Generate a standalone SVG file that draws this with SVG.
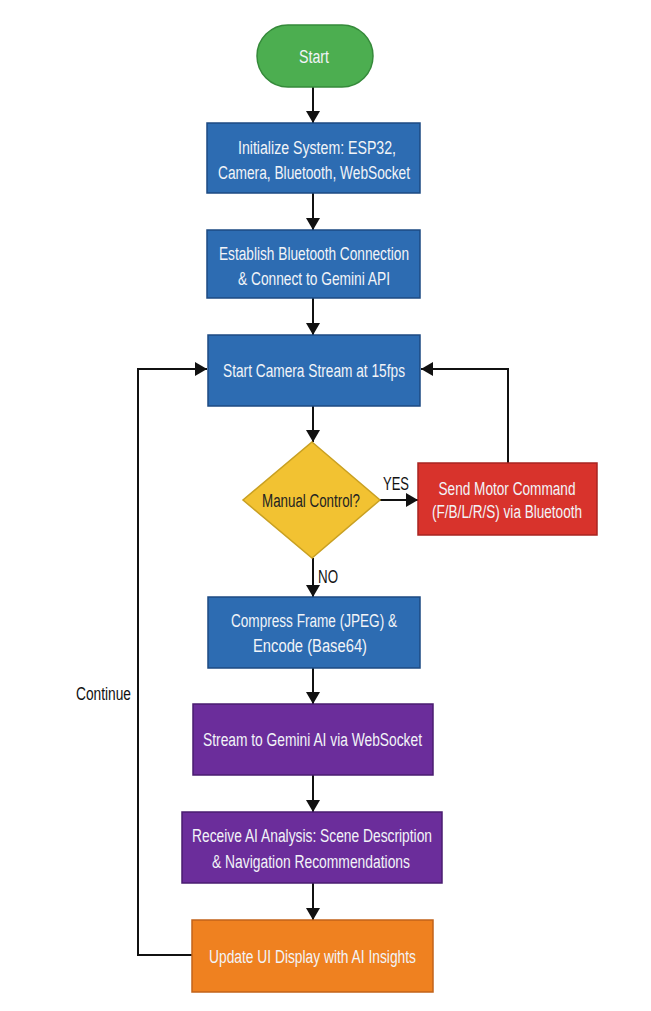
<svg xmlns="http://www.w3.org/2000/svg" width="651" height="1011" viewBox="0 0 651 1011">
<defs>
<marker id="ah" markerWidth="12" markerHeight="14" refX="12" refY="7" orient="auto" markerUnits="userSpaceOnUse">
<path d="M0,0 L12,7 L0,14 Z" fill="#111"/>
</marker>
<style>
.t{font-family:"Liberation Sans",Arial,sans-serif;font-size:18px;fill:#f2f4f8;text-anchor:middle}
.d{font-family:"Liberation Sans",Arial,sans-serif;font-size:18px;fill:#222;text-anchor:middle}
.l{font-family:"Liberation Sans",Arial,sans-serif;font-size:18px;fill:#111;text-anchor:middle}
.blue{fill:#2d6cb2;stroke:#1d4a82;stroke-width:1.5}
.purple{fill:#6b2d9b;stroke:#4a1c70;stroke-width:1.5}
.red{fill:#d8332c;stroke:#a82520;stroke-width:1.5}
.orange{fill:#ef8120;stroke:#c2631a;stroke-width:1.5}
.green{fill:#4cae50;stroke:#358a3a;stroke-width:1.5}
.yellow{fill:#f2c232;stroke:#c9a022;stroke-width:1.5}
.c{fill:none;stroke:#111;stroke-width:2;marker-end:url(#ah)}
</style>
</defs>
<rect width="651" height="1011" fill="#ffffff"/>
<g id="connectors">
<path class="c" d="M313,87 V123"/>
<path class="c" d="M313,193 V230"/>
<path class="c" d="M313,298 V335"/>
<path class="c" d="M313,406 V442"/>
<path class="c" d="M380,500 H418"/>
<path class="c" d="M508,463 V369 H421"/>
<path class="c" d="M313,558 V597"/>
<path class="c" d="M313,668 V704"/>
<path class="c" d="M313,775 V812"/>
<path class="c" d="M313,883 V920"/>
<path class="c" d="M192,955 H138 V369 H207"/>
<text class="l" x="396" y="490" textLength="26" lengthAdjust="spacingAndGlyphs">YES</text>
<text class="l" x="328" y="583" textLength="20" lengthAdjust="spacingAndGlyphs">NO</text>
<text class="l" x="103.5" y="700" textLength="55" lengthAdjust="spacingAndGlyphs">Continue</text>
</g>
<g id="start">
<rect class="green" x="257" y="25" width="116" height="62" rx="31"/>
<text class="t" x="314" y="63" textLength="30" lengthAdjust="spacingAndGlyphs">Start</text>
</g>
<g id="init">
<rect class="blue" x="207" y="123" width="213" height="70"/>
<text class="t" x="317" y="154" textLength="158" lengthAdjust="spacingAndGlyphs">Initialize System: ESP32,</text>
<text class="t" x="314" y="179" textLength="192" lengthAdjust="spacingAndGlyphs">Camera, Bluetooth, WebSocket</text>
</g>
<g id="connect">
<rect class="blue" x="207" y="230" width="213" height="68"/>
<text class="t" x="314" y="260" textLength="190" lengthAdjust="spacingAndGlyphs">Establish Bluetooth Connection</text>
<text class="t" x="314" y="285" textLength="152" lengthAdjust="spacingAndGlyphs">&amp; Connect to Gemini API</text>
</g>
<g id="camera">
<rect class="blue" x="208" y="335" width="212" height="71"/>
<text class="t" x="314" y="377" textLength="182" lengthAdjust="spacingAndGlyphs">Start Camera Stream at 15fps</text>
</g>
<g id="manual">
<polygon class="yellow" points="312,442 380,500 312,558 243,500"/>
<text class="d" x="311" y="507" textLength="98" lengthAdjust="spacingAndGlyphs">Manual Control?</text>
</g>
<g id="motor">
<rect class="red" x="418" y="463" width="179" height="72"/>
<text class="t" x="507" y="495" textLength="137" lengthAdjust="spacingAndGlyphs">Send Motor Command</text>
<text class="t" x="507" y="518" textLength="150" lengthAdjust="spacingAndGlyphs">(F/B/L/R/S) via Bluetooth</text>
</g>
<g id="compress">
<rect class="blue" x="208" y="597" width="212" height="71"/>
<text class="t" x="314" y="627" textLength="166" lengthAdjust="spacingAndGlyphs">Compress Frame (JPEG) &amp;</text>
<text class="t" x="310" y="652" textLength="114" lengthAdjust="spacingAndGlyphs">Encode (Base64)</text>
</g>
<g id="stream">
<rect class="purple" x="193" y="704" width="240" height="71"/>
<text class="t" x="312.5" y="746" textLength="219" lengthAdjust="spacingAndGlyphs">Stream to Gemini AI via WebSocket</text>
</g>
<g id="receive">
<rect class="purple" x="182" y="812" width="260" height="71"/>
<text class="t" x="312" y="842" textLength="240" lengthAdjust="spacingAndGlyphs">Receive AI Analysis: Scene Description</text>
<text class="t" x="311" y="868" textLength="198" lengthAdjust="spacingAndGlyphs">&amp; Navigation Recommendations</text>
</g>
<g id="update">
<rect class="orange" x="192" y="920" width="241" height="72"/>
<text class="t" x="312.5" y="963" textLength="207" lengthAdjust="spacingAndGlyphs">Update UI Display with AI Insights</text>
</g>
</svg>
